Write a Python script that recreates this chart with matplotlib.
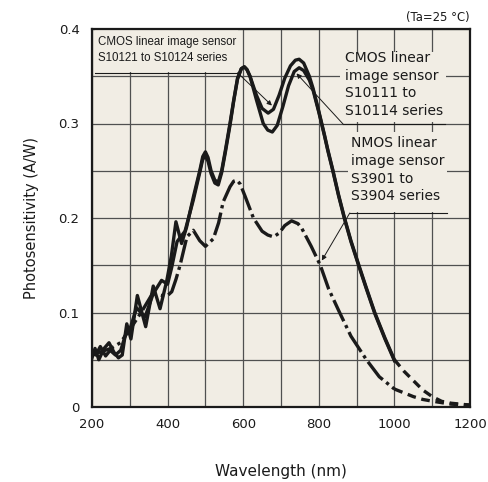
import matplotlib
matplotlib.use("Agg")
import matplotlib.pyplot as plt
from matplotlib.patches import Rectangle

# ---------------- data ----------------
wl_a = [200, 208, 218, 232, 245, 258, 270, 280, 292, 303, 320, 342, 362, 380, 398,
        410, 422, 437, 450, 468, 485, 493, 500, 507, 515, 525, 534, 543, 553, 565,
        575, 585, 595, 603, 610, 618, 635, 650, 666, 680, 695, 710, 725, 738, 748,
        760, 775, 785, 800, 815, 824, 837, 852, 868, 885, 906, 925, 948, 975, 1000]
cmos_a = [0.052, 0.062, 0.050, 0.062, 0.068, 0.058, 0.052, 0.055, 0.088, 0.072, 0.118,
          0.085, 0.128, 0.104, 0.134, 0.160, 0.196, 0.173, 0.190, 0.222, 0.250, 0.265,
          0.270, 0.264, 0.250, 0.240, 0.238, 0.250, 0.272, 0.300, 0.325, 0.348, 0.358,
          0.360, 0.357, 0.350, 0.330, 0.316, 0.311, 0.315, 0.330, 0.348, 0.361, 0.367,
          0.368, 0.364, 0.350, 0.337, 0.313, 0.288, 0.272, 0.251, 0.225, 0.200, 0.176,
          0.150, 0.127, 0.100, 0.073, 0.050]

wl_b = [200, 210, 222, 236, 248, 262, 276, 290, 300, 318, 340, 362, 384, 400, 411,
        425, 446, 468, 485, 493, 500, 507, 515, 525, 534, 543, 553, 565, 575, 585,
        595, 603, 610, 618, 635, 653, 665, 677, 690, 705, 720, 735, 748, 760, 775,
        785, 800, 815, 824, 837, 852, 868, 885, 906, 925, 948, 975, 1000]
cmos_b = [0.058, 0.055, 0.064, 0.054, 0.060, 0.055, 0.060, 0.078, 0.082, 0.105, 0.095,
          0.120, 0.134, 0.130, 0.148, 0.175, 0.186, 0.219, 0.248, 0.262, 0.266, 0.260,
          0.247, 0.237, 0.235, 0.248, 0.270, 0.298, 0.324, 0.347, 0.358, 0.360, 0.357,
          0.350, 0.325, 0.300, 0.293, 0.291, 0.298, 0.318, 0.340, 0.355, 0.359, 0.356,
          0.346, 0.335, 0.312, 0.287, 0.271, 0.250, 0.224, 0.199, 0.175, 0.149, 0.126,
          0.099, 0.072, 0.049]

wl_cmos_tail = [1000, 1025, 1050, 1075, 1100, 1125, 1150, 1175, 1200]
cmos_tail = [0.050, 0.038, 0.028, 0.018, 0.011, 0.006, 0.004, 0.003, 0.002]

wl_n = [200, 220, 250, 275, 300, 330, 360, 385, 400, 411, 422, 433, 451, 468, 485,
        500, 521, 535, 547, 565, 575, 583, 592, 605, 627, 650, 665, 680, 695, 710,
        728, 745, 755, 780, 804, 826, 855, 885, 926, 960, 1000]
nmos = [0.055, 0.058, 0.062, 0.068, 0.082, 0.100, 0.120, 0.118, 0.118, 0.122, 0.135,
        0.150, 0.180, 0.187, 0.176, 0.170, 0.178, 0.195, 0.217, 0.233, 0.239, 0.240,
        0.236, 0.223, 0.200, 0.186, 0.182, 0.180, 0.184, 0.192, 0.197, 0.194, 0.189,
        0.170, 0.150, 0.125, 0.100, 0.075, 0.050, 0.032, 0.019]

wl_n_tail = [1000, 1025, 1050, 1075, 1103, 1150, 1200]
nmos_tail = [0.019, 0.015, 0.011, 0.008, 0.006, 0.003, 0.002]

xticks = [200, 400, 600, 800, 1000, 1200]
yticks = [0, 0.1, 0.2, 0.3, 0.4]
ytick_labels = ["0", "0.1", "0.2", "0.3", "0.4"]

label_s10121 = "CMOS linear image sensor\nS10121 to S10124 series"
label_s10111 = "CMOS linear\nimage sensor\nS10111 to\nS10114 series"
label_s3901 = "NMOS linear\nimage sensor\nS3901 to\nS3904 series"

# ---------------- style ----------------
BG = "#f1ede4"
GRID = "#505050"
INK = "#1a1a1a"

plt.rcParams["font.family"] = ["DejaVu Sans"]

fig = plt.figure(figsize=(4.88, 4.82), dpi=100)
ax = fig.add_axes([92 / 488, 1 - 407 / 482, (470 - 92) / 488, (407 - 29) / 482])
ax.set_facecolor(BG)
ax.set_xlim(200, 1200)
ax.set_ylim(0, 0.4)

ax.set_xticks(xticks)
ax.set_xticks(range(300, 1200, 100), minor=True)
ax.set_yticks(yticks)
ax.set_yticklabels(ytick_labels)
ax.set_yticks([0.05, 0.15, 0.25, 0.35], minor=True)
ax.tick_params(which="both", length=0)
ax.tick_params(axis="x", pad=8, labelsize=9.5, colors=INK)
ax.tick_params(axis="y", pad=9, labelsize=9.5, colors=INK)
ax.set_axisbelow(True)
ax.grid(True, which="both", color=GRID, lw=0.9)
for s in ax.spines.values():
    s.set_linewidth(1.6)
    s.set_color(INK)
    s.set_zorder(5)

# label boxes hiding the grid
for (x0, x1, y0, y1) in [(207, 585, 0.3545, 0.4), (856, 1136, 0.3012, 0.3755),
                         (878, 1140, 0.2062, 0.2915)]:
    ax.add_patch(Rectangle((x0, y0), x1 - x0, y1 - y0, facecolor=BG, edgecolor="none",
                           zorder=1))

# curves
lw = 2.4
ax.plot(wl_a, cmos_a, color=INK, lw=lw, solid_joinstyle="round", zorder=3)
ax.plot(wl_b, cmos_b, color=INK, lw=lw, solid_joinstyle="round", zorder=3)
ax.plot(wl_cmos_tail, cmos_tail, color=INK, lw=lw, ls=(0, (2.6, 1.7)), zorder=3)
ax.plot(wl_n, nmos, color=INK, lw=lw, ls=(0, (7, 1.3, 1, 1.3)), zorder=3)
ax.plot(wl_n_tail, nmos_tail, color=INK, lw=lw, ls=(0, (2.6, 1.7)), zorder=3)

# labels
ax.text(216, 0.3925, label_s10121, ha="left", va="top", fontsize=8.3,
        family=["Liberation Sans", "DejaVu Sans"], linespacing=1.45, color=INK, zorder=4)
ax.text(869, 0.3765, label_s10111, ha="left", va="top", fontsize=10,
        linespacing=1.33, color=INK, zorder=4)
ax.text(884, 0.2865, label_s3901, ha="left", va="top", fontsize=10,
        linespacing=1.33, color=INK, zorder=4)

# underlines and leaders
ax.plot([207, 585], [0.3537, 0.3537], color=INK, lw=0.8, zorder=4)
ax.plot([864, 1134], [0.2995, 0.2995], color=INK, lw=0.8, zorder=4)
ax.plot([882, 1139], [0.2053, 0.2053], color=INK, lw=0.8, zorder=4)
arrow = dict(arrowstyle="-|>", color=INK, lw=0.7, mutation_scale=7, shrinkA=0, shrinkB=0)
ax.annotate("", xy=(676, 0.319), xytext=(585, 0.3537), arrowprops=arrow, zorder=4)
ax.annotate("", xy=(741, 0.353), xytext=(864, 0.2995), arrowprops=arrow, zorder=4)
ax.annotate("", xy=(808, 0.155), xytext=(882, 0.2053), arrowprops=arrow, zorder=4)

ax.text(1.0, 1.012, "(Ta=25 °C)", transform=ax.transAxes, ha="right", va="bottom",
        fontsize=8.4, color=INK)

ax.set_xlabel("Wavelength (nm)", fontsize=11, color=INK, labelpad=24)
ax.set_ylabel("Photosensitivity (A/W)", fontsize=10.5, color=INK, labelpad=14)

fig.savefig("out.png", dpi=100, facecolor="white")
